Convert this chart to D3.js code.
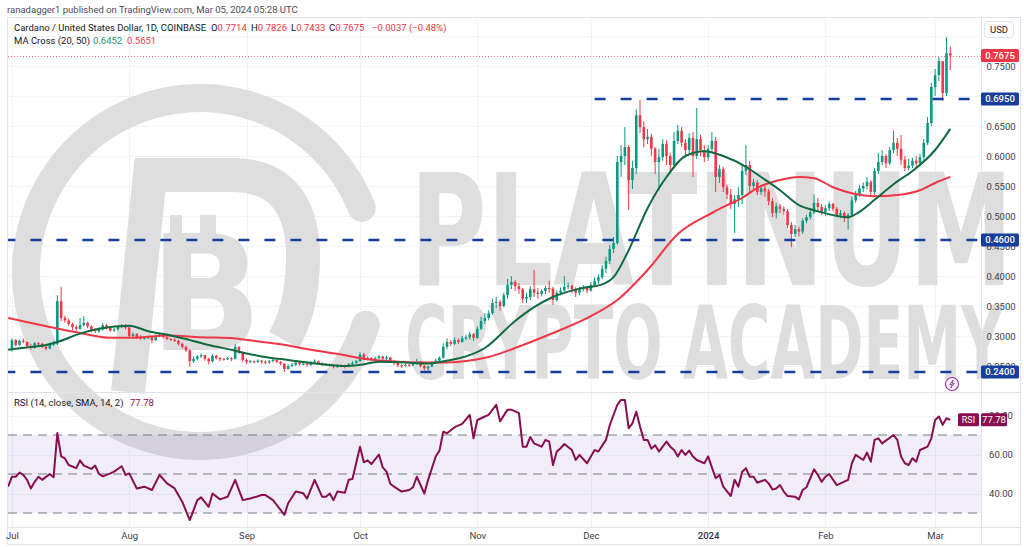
<!DOCTYPE html>
<html>
<head>
<meta charset="utf-8">
<script src="https://cdn.jsdelivr.net/npm/d3@7"></script>
<style>
  html, body { margin: 0; padding: 0; background: #fff; }
  svg { display: block; font-family: Roboto, "Noto Sans", sans-serif; }
</style>
</head>
<body>
<svg id="chart" width="1024" height="547"></svg>
<script>
// ---- data: daily bars as [close, high, low], open = previous close ----
const firstOpen = 0.279;
const julBars = [
  [0.293,0.296,0.274],[0.285,0.295,0.283],[0.292,0.294,0.284],[0.290,0.296,0.288],[0.283,0.291,0.280],
  [0.280,0.287,0.277],[0.288,0.290,0.279],[0.287,0.290,0.284],[0.282,0.289,0.280],[0.279,0.285,0.276],
  [0.286,0.289,0.278],[0.287,0.292,0.283],[0.358,0.368,0.285],[0.330,0.382,0.325],[0.326,0.334,0.322],
  [0.320,0.329,0.317],[0.315,0.322,0.310],[0.312,0.318,0.308],[0.318,0.330,0.310],[0.322,0.333,0.316],
  [0.316,0.324,0.313],[0.310,0.318,0.306],[0.308,0.313,0.305],[0.311,0.314,0.305],[0.318,0.322,0.309],
  [0.314,0.320,0.311],[0.309,0.316,0.307],[0.311,0.314,0.307],[0.315,0.317,0.309],[0.318,0.320,0.313],
  [0.314,0.320,0.311]
];
const augBars = [
  [0.300,0.316,0.297],[0.303,0.306,0.296],[0.298,0.305,0.295],[0.296,0.301,0.293],[0.297,0.299,0.294],
  [0.298,0.300,0.295],[0.293,0.299,0.288],[0.300,0.303,0.292],[0.303,0.306,0.298],[0.298,0.304,0.296],
  [0.295,0.299,0.293],[0.294,0.297,0.292],[0.292,0.296,0.290],[0.287,0.294,0.284],[0.282,0.289,0.279],
  [0.276,0.284,0.273],[0.258,0.278,0.249],[0.262,0.266,0.255],[0.266,0.268,0.259],[0.268,0.271,0.263],
  [0.262,0.269,0.259],[0.258,0.264,0.253],[0.267,0.270,0.256],[0.263,0.269,0.261],[0.262,0.265,0.258],
  [0.261,0.263,0.259],[0.263,0.265,0.260],[0.262,0.265,0.258],[0.282,0.286,0.261],[0.272,0.283,0.270],
  [0.260,0.274,0.257]
];
const sepBars = [
  [0.257,0.262,0.253],[0.258,0.260,0.255],[0.257,0.259,0.254],[0.259,0.261,0.255],[0.257,0.260,0.254],
  [0.256,0.259,0.253],[0.258,0.260,0.254],[0.260,0.262,0.256],[0.257,0.261,0.255],[0.254,0.258,0.251],
  [0.245,0.255,0.240],[0.250,0.253,0.244],[0.252,0.255,0.248],[0.256,0.258,0.250],[0.253,0.257,0.251],
  [0.254,0.256,0.251],[0.252,0.255,0.249],[0.256,0.258,0.250],[0.258,0.261,0.254],[0.255,0.259,0.253],
  [0.252,0.256,0.250],[0.253,0.255,0.250],[0.251,0.254,0.249],[0.249,0.252,0.246],[0.251,0.253,0.247],
  [0.250,0.253,0.248],[0.249,0.252,0.246],[0.253,0.255,0.248],[0.255,0.258,0.252],[0.258,0.260,0.254]
];
const octBars = [
  [0.269,0.273,0.257],[0.262,0.272,0.260],[0.263,0.266,0.259],[0.261,0.265,0.258],[0.263,0.266,0.259],
  [0.266,0.268,0.261],[0.262,0.267,0.260],[0.264,0.267,0.260],[0.258,0.265,0.255],[0.255,0.260,0.252],
  [0.251,0.257,0.248],[0.250,0.253,0.247],[0.252,0.254,0.249],[0.251,0.253,0.249],[0.253,0.255,0.250],
  [0.257,0.262,0.252],[0.250,0.258,0.248],[0.246,0.252,0.243],[0.249,0.251,0.240],[0.255,0.258,0.248],
  [0.259,0.262,0.254],[0.264,0.266,0.257],[0.282,0.288,0.262],[0.290,0.296,0.278],[0.287,0.293,0.283],
  [0.293,0.298,0.285],[0.290,0.296,0.287],[0.296,0.300,0.289],[0.298,0.302,0.293],[0.303,0.307,0.294],
  [0.297,0.305,0.292]
];
const novBars = [
  [0.312,0.316,0.295],[0.325,0.332,0.310],[0.330,0.338,0.320],[0.338,0.343,0.326],[0.355,0.362,0.335],
  [0.357,0.365,0.347],[0.350,0.360,0.342],[0.368,0.372,0.348],[0.385,0.395,0.362],[0.390,0.400,0.378],
  [0.383,0.393,0.375],[0.378,0.388,0.370],[0.362,0.380,0.355],[0.365,0.372,0.355],[0.378,0.383,0.360],
  [0.372,0.410,0.365],[0.370,0.380,0.362],[0.375,0.378,0.366],[0.380,0.384,0.370],[0.379,0.392,0.372],
  [0.360,0.382,0.352],[0.372,0.376,0.357],[0.376,0.381,0.368],[0.382,0.400,0.374],[0.384,0.389,0.378],
  [0.378,0.386,0.372],[0.372,0.381,0.365],[0.378,0.382,0.368],[0.380,0.385,0.374],[0.376,0.383,0.371]
];
const decBars = [
  [0.385,0.390,0.374],[0.392,0.398,0.383],[0.398,0.403,0.387],[0.412,0.418,0.395],[0.425,0.432,0.405],
  [0.445,0.452,0.420],[0.455,0.465,0.438],[0.590,0.600,0.452],[0.600,0.618,0.565],[0.615,0.648,0.585],
  [0.560,0.618,0.510],[0.580,0.592,0.545],[0.668,0.678,0.570],[0.648,0.693,0.638],[0.628,0.658,0.615],
  [0.632,0.645,0.620],[0.612,0.637,0.600],[0.590,0.615,0.570],[0.598,0.612,0.543],[0.620,0.628,0.592],
  [0.600,0.626,0.585],[0.585,0.605,0.573],[0.625,0.640,0.580],[0.642,0.652,0.620],[0.622,0.648,0.615],
  [0.610,0.628,0.598],[0.630,0.638,0.603],[0.600,0.640,0.565],[0.628,0.680,0.595],[0.610,0.635,0.600],
  [0.598,0.618,0.590]
];
const janBars = [
  [0.612,0.618,0.592],[0.625,0.640,0.605],[0.565,0.632,0.540],[0.578,0.585,0.555],[0.548,0.582,0.540],
  [0.536,0.552,0.528],[0.520,0.545,0.512],[0.528,0.535,0.472],[0.535,0.548,0.515],[0.575,0.585,0.520],
  [0.585,0.618,0.568],[0.550,0.592,0.540],[0.556,0.562,0.542],[0.540,0.560,0.535],[0.546,0.552,0.535],
  [0.541,0.553,0.532],[0.525,0.545,0.518],[0.505,0.530,0.498],[0.516,0.522,0.496],[0.512,0.520,0.505],
  [0.508,0.516,0.502],[0.485,0.512,0.480],[0.470,0.490,0.448],[0.478,0.485,0.465],[0.474,0.482,0.466],
  [0.492,0.496,0.470],[0.498,0.502,0.488],[0.506,0.512,0.494],[0.522,0.536,0.503],[0.515,0.530,0.510],
  [0.507,0.520,0.502]
];
const febBars = [
  [0.513,0.518,0.500],[0.520,0.524,0.508],[0.512,0.522,0.508],[0.502,0.515,0.498],[0.505,0.510,0.496],
  [0.496,0.508,0.490],[0.502,0.505,0.477],[0.526,0.532,0.498],[0.536,0.542,0.522],[0.546,0.552,0.532],
  [0.550,0.556,0.540],[0.557,0.565,0.545],[0.540,0.560,0.532],[0.575,0.580,0.535],[0.590,0.605,0.570],
  [0.600,0.610,0.585],[0.588,0.603,0.580],[0.610,0.615,0.585],[0.622,0.642,0.605],[0.612,0.630,0.600],
  [0.594,0.635,0.585],[0.580,0.600,0.575],[0.584,0.595,0.576],[0.592,0.597,0.580],[0.588,0.600,0.582],
  [0.598,0.604,0.583],[0.622,0.628,0.594],[0.655,0.665,0.618],[0.715,0.722,0.650]
];
const marBars = [
  [0.735,0.745,0.700],[0.758,0.765,0.725],[0.705,0.758,0.692],[0.7714,0.798,0.700],[0.7675,0.7826,0.7433]
];

// moving averages
const ma20Points = [
  ["2023-06-30",0.277],["2023-07-05",0.281],["2023-07-10",0.285],["2023-07-13",0.290],["2023-07-19",0.304],
  ["2023-07-24",0.312],["2023-08-01",0.317],["2023-08-06",0.308],["2023-08-12",0.301],["2023-08-16",0.295],
  ["2023-08-22",0.285],["2023-08-28",0.277],["2023-09-01",0.271],["2023-09-05",0.266],["2023-09-12",0.260],
  ["2023-09-21",0.253],["2023-09-27",0.250],["2023-10-01",0.252],["2023-10-06",0.257],["2023-10-13",0.256],
  ["2023-10-19",0.254],["2023-10-24",0.259],["2023-10-29",0.266],["2023-11-03",0.280],["2023-11-11",0.325],
  ["2023-11-16",0.348],["2023-11-21",0.365],["2023-11-28",0.379],["2023-12-04",0.386],["2023-12-07",0.398],
  ["2023-12-11",0.443],["2023-12-16",0.513],["2023-12-21",0.565],["2023-12-26",0.600],["2023-12-31",0.608],
  ["2024-01-05",0.600],["2024-01-11",0.582],["2024-01-15",0.565],["2024-01-20",0.543],["2024-01-25",0.518],
  ["2024-01-30",0.508],["2024-02-07",0.498],["2024-02-10",0.507],["2024-02-14",0.527],["2024-02-19",0.553],
  ["2024-02-24",0.575],["2024-03-01",0.610],["2024-03-05",0.6452]
];
const ma50Points = [
  ["2023-06-30",0.330],["2023-07-11",0.315],["2023-07-19",0.305],["2023-07-27",0.297],["2023-08-02",0.297],
  ["2023-08-11",0.301],["2023-08-20",0.298],["2023-08-29",0.296],["2023-09-04",0.291],["2023-09-09",0.287],
  ["2023-09-18",0.277],["2023-09-27",0.268],["2023-10-01",0.263],["2023-10-09",0.258],["2023-10-18",0.256],
  ["2023-10-24",0.256],["2023-10-31",0.260],["2023-11-04",0.265],["2023-11-11",0.280],["2023-11-21",0.305],
  ["2023-12-01",0.333],["2023-12-08",0.360],["2023-12-16",0.410],["2023-12-24",0.470],["2024-01-02",0.505],
  ["2024-01-06",0.518],["2024-01-10",0.530],["2024-01-14",0.547],["2024-01-20",0.560],["2024-01-25",0.565],
  ["2024-01-29",0.563],["2024-02-03",0.548],["2024-02-08",0.538],["2024-02-14",0.533],["2024-02-20",0.535],
  ["2024-02-26",0.543],["2024-03-01",0.555],["2024-03-05",0.5651]
];

// RSI (14)
const rsiPoints = [
  ["2023-06-30",43.5],["2023-07-01",48.6],["2023-07-02",48.6],["2023-07-03",50.7],["2023-07-04",49.5],
  ["2023-07-05",47],["2023-07-06",42.6],["2023-07-07",46],["2023-07-08",48.6],["2023-07-09",47],
  ["2023-07-11",50],["2023-07-12",48.3],["2023-07-13",71],["2023-07-14",59],["2023-07-15",58],
  ["2023-07-16",54.6],["2023-07-18",53],["2023-07-19",57],["2023-07-20",54.3],["2023-07-22",52.6],
  ["2023-07-23",54.3],["2023-07-24",50],["2023-07-25",48.8],["2023-07-27",50.3],["2023-07-28",51.2],
  ["2023-07-30",54],["2023-07-31",49.5],["2023-08-01",50.3],["2023-08-03",42.6],["2023-08-05",43.5],
  ["2023-08-07",41.8],["2023-08-09",49.5],["2023-08-11",45.2],["2023-08-13",42.6],["2023-08-15",35.8],
  ["2023-08-17",26.4],["2023-08-19",36.6],["2023-08-20",38],["2023-08-22",33.2],["2023-08-23",40],
  ["2023-08-25",37],["2023-08-27",38.3],["2023-08-29",47],["2023-08-31",36.6],["2023-09-02",37.4],
  ["2023-09-05",39.2],["2023-09-06",39.2],["2023-09-08",36.6],["2023-09-11",29],["2023-09-12",35],
  ["2023-09-14",41],["2023-09-16",40.1],["2023-09-17",37.4],["2023-09-19",47],["2023-09-21",38.3],
  ["2023-09-22",38.3],["2023-09-23",40],["2023-09-24",36.6],["2023-09-25",41],["2023-09-27",40.4],
  ["2023-09-28",47],["2023-09-29",47.4],["2023-10-01",64],["2023-10-02",56],["2023-10-03",57],
  ["2023-10-04",55.1],["2023-10-06",60],["2023-10-07",53.4],["2023-10-08",51.2],["2023-10-09",45],
  ["2023-10-10",43.5],["2023-10-12",41],["2023-10-14",41.8],["2023-10-15",43.2],["2023-10-16",48.6],
  ["2023-10-18",40],["2023-10-19",47],["2023-10-21",59],["2023-10-22",62],["2023-10-23",71.7],
  ["2023-10-24",70.9],["2023-10-26",74],["2023-10-28",75.7],["2023-10-30",80.3],["2023-10-31",68.3],
  ["2023-11-01",77.7],["2023-11-03",79.5],["2023-11-04",80.3],["2023-11-06",85.5],["2023-11-07",77],
  ["2023-11-09",83],["2023-11-10",83],["2023-11-12",81.2],["2023-11-13",64],["2023-11-14",64],
  ["2023-11-15",69],["2023-11-16",65.7],["2023-11-18",64],["2023-11-19",67.5],["2023-11-20",66.6],
  ["2023-11-21",54.6],["2023-11-22",61.5],["2023-11-23",63.2],["2023-11-24",65.4],["2023-11-26",62.3],
  ["2023-11-27",57.2],["2023-11-28",59.8],["2023-11-30",55.5],["2023-12-02",62.3],["2023-12-03",61.5],
  ["2023-12-05",67.5],["2023-12-06",75],["2023-12-08",85.5],["2023-12-09",88],["2023-12-10",88],
  ["2023-12-11",73.5],["2023-12-12",76],["2023-12-13",82],["2023-12-14",74.3],["2023-12-15",67.5],
  ["2023-12-16",67.5],["2023-12-17",63],["2023-12-18",64.7],["2023-12-19",61.5],["2023-12-21",66.6],
  ["2023-12-22",64],["2023-12-23",62.3],["2023-12-24",59],["2023-12-25",62.3],["2023-12-26",59.8],
  ["2023-12-27",62],["2023-12-28",59],["2023-12-29",57.2],["2023-12-31",55.5],["2024-01-01",59],
  ["2024-01-03",47.8],["2024-01-04",49.5],["2024-01-05",43.5],["2024-01-07",38.7],["2024-01-08",47],
  ["2024-01-09",43.5],["2024-01-10",51.2],["2024-01-11",53],["2024-01-12",48.6],["2024-01-13",48.6],
  ["2024-01-14",45.5],["2024-01-16",47],["2024-01-17",45.2],["2024-01-18",42],["2024-01-19",42.6],
  ["2024-01-20",44.3],["2024-01-21",41],["2024-01-22",38.7],["2024-01-24",38.3],["2024-01-25",37],
  ["2024-01-26",41.8],["2024-01-27",43.2],["2024-01-29",52.4],["2024-01-30",49.5],["2024-01-31",46],
  ["2024-02-01",48.6],["2024-02-02",50],["2024-02-04",44.3],["2024-02-05",45.2],["2024-02-07",47],
  ["2024-02-08",55.5],["2024-02-09",59.8],["2024-02-11",57.2],["2024-02-12",61],["2024-02-13",56.3],
  ["2024-02-14",67.5],["2024-02-15",68.3],["2024-02-16",65.7],["2024-02-19",70],["2024-02-20",67.5],
  ["2024-02-21",59],["2024-02-22",55.5],["2024-02-23",54.6],["2024-02-24",58.1],["2024-02-25",56.3],
  ["2024-02-26",62.3],["2024-02-28",64],["2024-02-29",68.3],["2024-03-01",77.7],["2024-03-02",79.5],
  ["2024-03-03",75.2],["2024-03-04",78.6],["2024-03-05",77.78]
];

const priceTicks = [0.25, 0.30, 0.35, 0.40, 0.45, 0.50, 0.55, 0.60, 0.65, 0.70, 0.75];
const rsiTicks = [40, 60, 80];
const rsiLevels = [70, 50, 30];
const levelPrices = [0.695, 0.46, 0.24];
const levelFrom = ["2023-12-02", "2023-06-29", "2023-06-29"];
const headerText = "ranadagger1 published on TradingView.com, Mar 05, 2024 05:28 UTC";
const symbolText = "Cardano / United States Dollar, 1D, COINBASE";
const changeText = "\u22120.0037 (\u22120.48%)";

// ---- build bars ----
const parse = d3.utcParse("%Y-%m-%d");
const startDay = Date.UTC(2023, 6, 1);
const bars = [];
let prevClose = firstOpen;
[julBars, augBars, sepBars, octBars, novBars, decBars, janBars, febBars, marBars].flat().forEach((b, i) => {
  const [c, h, l] = b;
  bars.push({ date: new Date(startDay + i * 864e5), o: prevClose, c,
              h: Math.max(h, prevClose, c), l: Math.min(l, prevClose, c) });
  prevClose = c;
});
const last = bars[bars.length - 1];

// ---- layout ----
const plotL = 8, plotR = 981, mainT = 18, mainB = 392, rsiB = 527;
const up = "#089981", down = "#f23645", ma20Color = "#0f6b3f", ma50Color = "#f23645";
const levelColor = "#143f9c", rsiColor = "#880e4f";

const x = d3.scaleUtc()
  .domain([new Date(Date.UTC(2023, 5, 29, 23)), new Date(Date.UTC(2024, 2, 13, 3))])
  .range([plotL, plotR]);
const y = d3.scaleLinear().domain([0.25, 0.75]).range([366, 66]);
const yr = d3.scaleLinear().domain([30, 70]).range([513, 435]);

const svg = d3.select("#chart");
svg.append("rect").attr("width", 1024).attr("height", 547).attr("fill", "#fff");

const defs = svg.append("defs");
defs.append("clipPath").attr("id", "mainClip").append("rect")
  .attr("x", plotL).attr("y", mainT).attr("width", plotR - plotL).attr("height", mainB - mainT);
defs.append("clipPath").attr("id", "rsiClip").append("rect")
  .attr("x", plotL).attr("y", mainB).attr("width", plotR - plotL).attr("height", rsiB - mainB);

// grid
const months = d3.utcMonth.range(new Date(Date.UTC(2023, 6, 1)), new Date(Date.UTC(2024, 2, 2)));
const grid = svg.append("g").attr("stroke", "#f0f3fa").attr("stroke-width", 1);
grid.selectAll(".vg").data(months).join("line").attr("class", "vg")
  .attr("x1", d => Math.round(x(d)) + 0.5).attr("x2", d => Math.round(x(d)) + 0.5)
  .attr("y1", mainT).attr("y2", rsiB);
grid.selectAll(".hg").data(priceTicks.concat([0.80])).join("line").attr("class", "hg")
  .attr("x1", plotL).attr("x2", plotR)
  .attr("y1", d => Math.round(y(d)) + 0.5).attr("y2", d => Math.round(y(d)) + 0.5);
grid.selectAll(".rg").data(rsiTicks).join("line").attr("class", "rg")
  .attr("x1", plotL).attr("x2", plotR)
  .attr("y1", d => Math.round(yr(d)) + 0.5).attr("y2", d => Math.round(yr(d)) + 0.5);

// watermark
const wm = svg.append("g").attr("fill", "#dedede");
const toRad = a => a * Math.PI / 180;
wm.append("path").attr("transform", "translate(200,272)")
  .attr("d", d3.arc().innerRadius(160).outerRadius(188).startAngle(toRad(103)).endAngle(toRad(433)).cornerRadius(14)());
wm.append("path")
  .attr("d", "M128 392 L150 175 L232 175 C292 175 304 220 303 262 C302 300 294 322 284 340")
  .attr("fill", "none").attr("stroke", "#dedede").attr("stroke-width", 34);
wm.append("text").attr("x", 150).attr("y", 350).attr("font-size", 160).attr("font-weight", 700)
  .attr("font-family", "DejaVu Sans").attr("textLength", 112).attr("lengthAdjust", "spacingAndGlyphs")
  .text("B");
wm.append("rect").attr("x", 170).attr("y", 215).attr("width", 12).attr("height", 24);
wm.append("rect").attr("x", 200).attr("y", 215).attr("width", 16).attr("height", 24);
wm.append("text").attr("x", 410).attr("y", 285).attr("font-size", 155).attr("font-weight", 700)
  .attr("font-family", "DejaVu Sans").attr("textLength", 603).attr("lengthAdjust", "spacingAndGlyphs")
  .text("PLATINUM");
wm.append("text").attr("x", 405).attr("y", 379).attr("font-size", 101).attr("font-weight", 700)
  .attr("font-family", "DejaVu Sans").attr("textLength", 598).attr("lengthAdjust", "spacingAndGlyphs")
  .text("CRYPTO ACADEMY");

// ---- main pane ----
const main = svg.append("g").attr("clip-path", "url(#mainClip)");
const step = x(new Date(startDay + 864e5)) - x(new Date(startDay));
const bodyW = step * 0.68;

const candles = main.append("g").selectAll("g").data(bars).join("g")
  .attr("fill", d => d.c >= d.o ? up : down).attr("stroke", d => d.c >= d.o ? up : down);
candles.append("line")
  .attr("x1", d => x(d.date)).attr("x2", d => x(d.date))
  .attr("y1", d => y(d.h)).attr("y2", d => y(d.l)).attr("stroke-width", 1);
candles.append("rect")
  .attr("x", d => x(d.date) - bodyW / 2).attr("width", bodyW)
  .attr("y", d => y(Math.max(d.o, d.c)))
  .attr("height", d => Math.max(1, Math.abs(y(d.o) - y(d.c))))
  .attr("stroke", "none");

const maLine = d3.line().x(d => x(parse(d[0]))).y(d => y(d[1])).curve(d3.curveMonotoneX);
main.append("path").datum(ma50Points).attr("d", maLine)
  .attr("fill", "none").attr("stroke", ma50Color).attr("stroke-width", 2);
main.append("path").datum(ma20Points).attr("d", maLine)
  .attr("fill", "none").attr("stroke", ma20Color).attr("stroke-width", 2);

// support / resistance levels
main.selectAll(".lvl").data(levelPrices).join("line").attr("class", "lvl")
  .attr("x1", (d, i) => x(parse(levelFrom[i]))).attr("x2", plotR)
  .attr("y1", d => y(d)).attr("y2", d => y(d))
  .attr("stroke", levelColor).attr("stroke-width", 2.6).attr("stroke-dasharray", "11,15");

// last price line
main.append("line").attr("x1", plotL).attr("x2", plotR)
  .attr("y1", Math.round(y(last.c)) + 0.5).attr("y2", Math.round(y(last.c)) + 0.5)
  .attr("stroke", down).attr("stroke-width", 1).attr("stroke-dasharray", "1,2").attr("opacity", 0.7);

// ---- RSI pane ----
const rsiG = svg.append("g").attr("clip-path", "url(#rsiClip)");
rsiG.append("rect").attr("x", plotL).attr("width", plotR - plotL)
  .attr("y", yr(70)).attr("height", yr(30) - yr(70)).attr("fill", "rgba(126,87,194,0.1)");
rsiG.selectAll(".rl").data(rsiLevels).join("line").attr("class", "rl")
  .attr("x1", plotL).attr("x2", plotR).attr("y1", d => yr(d)).attr("y2", d => yr(d))
  .attr("stroke", "#787b86").attr("stroke-width", 1.2).attr("stroke-dasharray", "9,6");
rsiG.append("path").datum(rsiPoints)
  .attr("d", d3.line().x(d => x(parse(d[0]))).y(d => yr(d[1])))
  .attr("fill", "none").attr("stroke", rsiColor).attr("stroke-width", 2).attr("stroke-linejoin", "round");

// ---- frame ----
const frame = svg.append("g").attr("stroke", "#e0e3eb").attr("fill", "none");
frame.append("rect").attr("x", 7.5).attr("y", 17.5).attr("width", 1013).attr("height", 527);
frame.append("line").attr("x1", plotR + 0.5).attr("x2", plotR + 0.5).attr("y1", 17.5).attr("y2", 544.5);
frame.append("line").attr("x1", 7.5).attr("x2", 1020.5).attr("y1", mainB + 0.5).attr("y2", mainB + 0.5);
frame.append("line").attr("x1", 7.5).attr("x2", 1020.5).attr("y1", rsiB + 0.5).attr("y2", rsiB + 0.5);

// ---- axes ----
const priceAxis = svg.append("g").attr("transform", "translate(1001,0)")
  .call(d3.axisRight(y).tickValues(priceTicks).tickFormat(d3.format(".4f")).tickSize(0).tickPadding(0));
priceAxis.select(".domain").remove();
priceAxis.attr("font-family", "Roboto, sans-serif").attr("font-size", 9.5)
  .selectAll("text").attr("text-anchor", "middle").attr("fill", "#3a3e4a");

const rsiAxis = svg.append("g").attr("transform", "translate(1001,0)")
  .call(d3.axisRight(yr).tickValues(rsiTicks).tickFormat(d3.format(".2f")).tickSize(0).tickPadding(0));
rsiAxis.select(".domain").remove();
rsiAxis.attr("font-family", "Roboto, sans-serif").attr("font-size", 9.5)
  .selectAll("text").attr("text-anchor", "middle").attr("fill", "#3a3e4a");

const timeAxis = svg.append("g").attr("transform", "translate(0,532)")
  .call(d3.axisBottom(x).tickValues(months).tickSize(0).tickPadding(0)
    .tickFormat(d => d.getUTCMonth() === 0 ? d3.utcFormat("%Y")(d) : d3.utcFormat("%b")(d)));
timeAxis.select(".domain").remove();
timeAxis.attr("font-family", "Roboto, sans-serif").attr("font-size", 9.5)
  .selectAll("text").attr("fill", "#3a3e4a")
  .attr("font-weight", d => d.getUTCMonth() === 0 ? 600 : 400);

// price labels on the axis
const tag = (val, fill, text) => {
  const g = svg.append("g").attr("transform", `translate(981,${y(val)})`);
  g.append("rect").attr("x", 0).attr("y", -6.5).attr("width", 38).attr("height", 13).attr("rx", 1.5).attr("fill", fill);
  g.append("text").attr("x", 19).attr("y", 3.4).attr("text-anchor", "middle").attr("fill", "#fff")
    .attr("font-size", 9.5).attr("font-weight", 500).text(text);
};
levelPrices.forEach(v => tag(v, levelColor, d3.format(".4f")(v)));
tag(last.c, down, d3.format(".4f")(last.c));

// USD box
svg.append("rect").attr("x", 984.5).attr("y", 21.5).attr("width", 29).attr("height", 16).attr("rx", 3)
  .attr("fill", "#fff").attr("stroke", "#e0e3eb");
svg.append("text").attr("x", 999).attr("y", 33).attr("text-anchor", "middle")
  .attr("font-size", 9.5).attr("fill", "#131722").text("USD");

// RSI value tag
const rsiLast = rsiPoints[rsiPoints.length - 1][1];
const rt = svg.append("g").attr("transform", `translate(0,${yr(rsiLast)})`);
rt.append("rect").attr("x", 958).attr("y", -6.5).attr("width", 21).attr("height", 13).attr("rx", 1.5).attr("fill", rsiColor);
rt.append("text").attr("x", 968.5).attr("y", 3.4).attr("text-anchor", "middle").attr("fill", "#fff")
  .attr("font-size", 9).text("RSI");
rt.append("rect").attr("x", 981).attr("y", -6.5).attr("width", 26).attr("height", 13).attr("rx", 1.5).attr("fill", rsiColor);
rt.append("text").attr("x", 994).attr("y", 3.4).attr("text-anchor", "middle").attr("fill", "#fff")
  .attr("font-size", 9.5).text(d3.format(".2f")(rsiLast));

// lightning marker
const bolt = svg.append("g").attr("transform", "translate(952,384)");
bolt.append("circle").attr("r", 6.5).attr("fill", "#fff").attr("stroke", "#9c27b0").attr("stroke-width", 1.1);
bolt.append("path").attr("d", "M1.2,-4 L-2.2,0.6 L0.2,0.6 L-1.2,4 L2.4,-0.8 L0,-0.8 Z")
  .attr("fill", "none").attr("stroke", "#9c27b0").attr("stroke-width", 0.9).attr("stroke-linejoin", "round");

// ---- texts ----
svg.append("text").attr("x", 7).attr("y", 13).attr("font-size", 9.5).attr("fill", "#4a4e59").text(headerText);

const fmt4 = d3.format(".4f");
const legend = svg.append("g").attr("font-size", 9.5);
legend.append("text").attr("x", 14).attr("y", 31).attr("fill", "#131722").text(symbolText);
[["O", last.o, 211], ["H", last.h, 251], ["L", last.l, 291], ["C", last.c, 329]].forEach(([k, v, px]) => {
  const t = legend.append("text").attr("x", px).attr("y", 31);
  t.append("tspan").attr("fill", "#131722").text(k);
  t.append("tspan").attr("fill", down).text(fmt4(v));
});
legend.append("text").attr("x", 372).attr("y", 31).attr("fill", down).text(changeText);
legend.append("text").attr("x", 14).attr("y", 44).attr("fill", "#131722").text("MA Cross (20, 50)");
legend.append("text").attr("x", 93).attr("y", 44).attr("fill", "#22996e").text(fmt4(ma20Points[ma20Points.length - 1][1]));
legend.append("text").attr("x", 127).attr("y", 44).attr("fill", down).text(fmt4(ma50Points[ma50Points.length - 1][1]));

const rsiLegend = svg.append("text").attr("x", 14).attr("y", 406).attr("font-size", 9.5);
rsiLegend.append("tspan").attr("fill", "#131722").text("RSI (14, close, SMA, 14, 2)");
rsiLegend.append("tspan").attr("x", 130).attr("fill", rsiColor).text(d3.format(".2f")(rsiLast));
</script>
</body>
</html>
